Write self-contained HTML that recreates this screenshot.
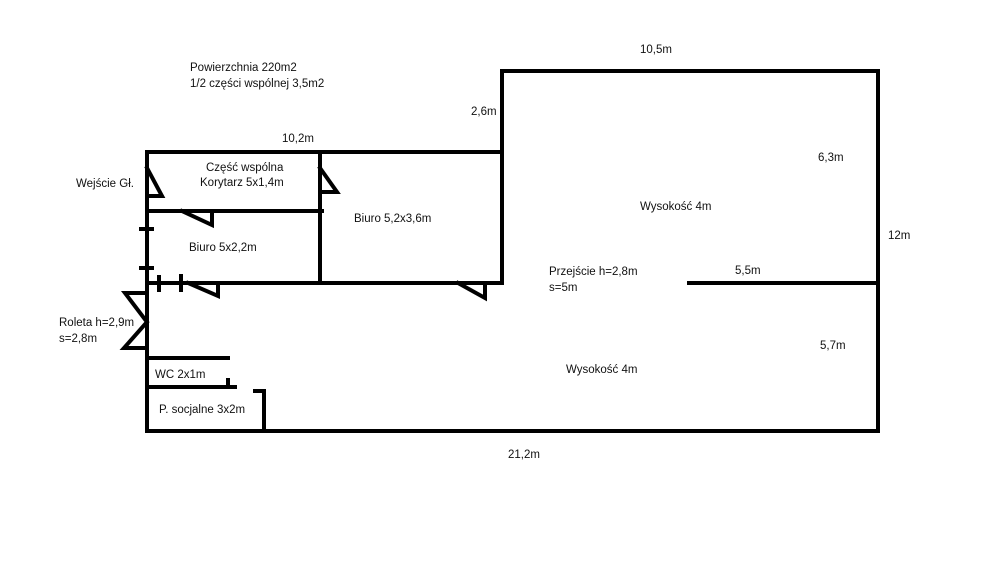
<!DOCTYPE html>
<html><head><meta charset="utf-8"><style>
html,body{margin:0;padding:0;background:#fff;width:1000px;height:563px;overflow:hidden}
svg text{font-family:"Liberation Sans",sans-serif;font-size:11.5px;fill:#111}
</style></head><body>
<svg width="1000" height="563" viewBox="0 0 1000 563">
<g stroke="#000" stroke-width="4" fill="none" stroke-linecap="square">
<polyline points="147,152 502,152 502,71 878,71 878,431 147,431 147,152"/>
<line x1="502" y1="152" x2="502" y2="283"/>
<line x1="320" y1="152" x2="320" y2="283"/>
<line x1="147" y1="211" x2="322" y2="211"/>
<line x1="147" y1="283" x2="502" y2="283"/>
<line x1="689" y1="283" x2="878" y2="283"/>
<polyline points="147,168 162,196 147,196"/>
<polyline points="320,168 337,192 320,192"/>
<polyline points="182,211 212,225 212,211"/>
<polyline points="188,283 218,296 218,283"/>
<polyline points="458,283 485,298 485,283"/>
<polyline points="147,293 125,293 147,322 124,348 147,348"/>
<line x1="141" y1="229" x2="152" y2="229"/>
<line x1="141" y1="268" x2="152" y2="268"/>
<line x1="159" y1="277" x2="159" y2="290"/>
<line x1="181" y1="276" x2="181" y2="290"/>
<line x1="147" y1="358" x2="228" y2="358"/>
<line x1="147" y1="387" x2="235" y2="387"/>
<line x1="228" y1="380" x2="228" y2="387"/>
<polyline points="255,391 264,391 264,431"/>
</g>
<text x="190" y="71">Powierzchnia 220m2</text>
<text x="190" y="87">1/2 części wspólnej 3,5m2</text>
<text x="640" y="53">10,5m</text>
<text x="471" y="115">2,6m</text>
<text x="282" y="142">10,2m</text>
<text x="206" y="171">Część wspólna</text>
<text x="200" y="186">Korytarz 5x1,4m</text>
<text x="76" y="187">Wejście Gł.</text>
<text x="818" y="161">6,3m</text>
<text x="640" y="210">Wysokość 4m</text>
<text x="354" y="222">Biuro 5,2x3,6m</text>
<text x="888" y="239">12m</text>
<text x="189" y="251">Biuro 5x2,2m</text>
<text x="549" y="275">Przejście h=2,8m</text>
<text x="549" y="291">s=5m</text>
<text x="735" y="274">5,5m</text>
<text x="59" y="326">Roleta h=2,9m</text>
<text x="59" y="342">s=2,8m</text>
<text x="820" y="349">5,7m</text>
<text x="566" y="373">Wysokość 4m</text>
<text x="155" y="378">WC 2x1m</text>
<text x="159" y="413">P. socjalne 3x2m</text>
<text x="508" y="458">21,2m</text>
</svg>
</body></html>
